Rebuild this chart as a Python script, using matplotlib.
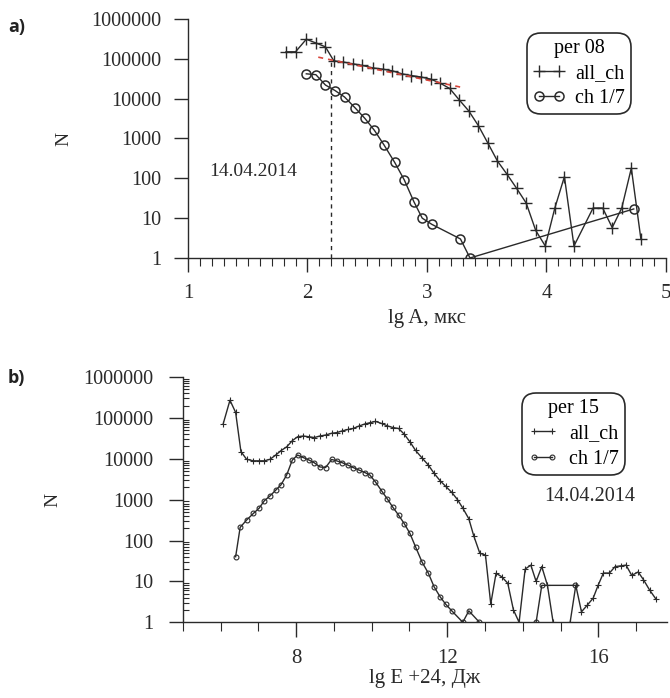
import matplotlib
matplotlib.use("Agg")
import matplotlib.pyplot as plt
import numpy as np
from matplotlib.ticker import MultipleLocator, LogLocator, NullFormatter

plt.rcParams["font.family"] = ["Liberation Serif", "DejaVu Serif"]

nan = np.nan

# panel a: amplitude distribution, per 08
a_all_x = [1.82, 1.90, 1.99, 2.07, 2.15, 2.22, 2.30, 2.38, 2.46, 2.55, 2.63, 2.71, 2.79,
           2.87, 2.95, 3.03, 3.11, 3.19, 3.27, 3.35, 3.43, 3.51, 3.59, 3.67, 3.75, 3.83,
           3.91, 3.99, 4.07, 4.15, 4.23, 4.39, 4.47, 4.55, 4.63, 4.71, 4.79]
a_all_n = [1.5e5, 1.5e5, 3.1e5, 2.5e5, 2.0e5, 8.9e4, 8.3e4, 7.5e4, 6.8e4, 5.9e4, 5.5e4,
           5.0e4, 4.2e4, 3.8e4, 3.5e4, 3.1e4, 2.45e4, 1.8e4, 9.3e3, 4.9e3, 2.1e3, 760,
           270, 126, 56, 24, 4.9, 2, 18, 110, 2, 18, 18, 5.8, 18, 180, 3]
a_ch_x = [1.99, 2.07, 2.15, 2.23, 2.31, 2.40, 2.48, 2.56, 2.64, 2.73, 2.81, 2.89, 2.96,
          3.04, 3.28, 3.36, 4.73]
a_ch_n = [4.2e4, 4.0e4, 2.2e4, 1.6e4, 1.1e4, 5.8e3, 3.2e3, 1.6e3, 690, 250, 91, 26, 10,
          7, 3, 1, 17]
a_fit_x = [2.09, 3.28]
a_fit_n = [1.1e5, 1.95e4]
a_cut_x = 2.20
a_cut_top = 8.5e4

# panel b: energy distribution, per 15
b_all_x = [6.07, 6.25, 6.40, 6.54, 6.69, 6.87, 7.02, 7.16, 7.31, 7.46, 7.60, 7.75, 7.90,
           8.04, 8.19, 8.34, 8.48, 8.63, 8.78, 8.94, 9.07, 9.22, 9.37, 9.51, 9.66, 9.82,
           9.95, 10.10, 10.26, 10.41, 10.56, 10.71, 10.86, 11.01, 11.16, 11.33, 11.50,
           11.65, 11.81, 11.96, 12.12, 12.27, 12.41, 12.57, 12.70, 12.86, 13.01, 13.15,
           13.29, 13.44, 13.60, 13.75, 13.90, 14.06, 14.21, 14.35, 14.50, 14.65, 14.80,
           14.95, 15.10, 15.25, 15.40, 15.55, 15.70, 15.86, 15.99, 16.13, 16.29, 16.44,
           16.59, 16.73, 16.88, 17.05, 17.19, 17.35, 17.52]
b_all_n = [7.1e4, 2.7e5, 1.36e5, 1.5e4, 9.7e3, 8.9e3, 8.9e3, 8.9e3, 9.7e3, 1.23e4, 1.58e4,
           1.95e4, 2.77e4, 3.45e4, 3.6e4, 3.45e4, 3.3e4, 3.6e4, 3.8e4, 4.2e4, 4.35e4,
           4.8e4, 5.2e4, 5.5e4, 6.3e4, 7.1e4, 7.6e4, 8.2e4, 7.3e4, 6.4e4, 5.8e4, 5.5e4,
           4.0e4, 2.6e4, 1.6e4, 1.05e4, 7e3, 4.4e3, 2.9e3, 2.1e3, 1.5e3, 1.0e3, 620, 340,
           130, 49, 44, 2.8, 15.8, 13, 9, 2, 1, 20, 25, 10, 23, 8, 1, nan, nan, 1, 8, 1.8,
           2.6, 3.9, 8, 16, 16, 23, 24, 25, 14, 17, 11, 6.2, 3.7]
b_ch_x = [6.40, 6.52, 6.69, 6.87, 7.02, 7.16, 7.31, 7.46, 7.60, 7.75, 7.90, 8.04, 8.19,
          8.34, 8.48, 8.63, 8.78, 8.94, 9.07, 9.22, 9.37, 9.51, 9.66, 9.82, 9.95, 10.10,
          10.26, 10.41, 10.56, 10.71, 10.86, 11.01, 11.16, 11.33, 11.50, 11.65, 11.81,
          11.96, 12.12, 12.41, 12.57, 12.85, 13.60, 14.35, 14.50, 15.38]
b_ch_n = [40, 210, 316, 460, 615, 940, 1230, 1700, 2300, 4000, 9300, 1.23e4, 1.07e4,
          9.3e3, 8e3, 6.3e3, 6.1e3, 9.6e3, 8.9e3, 8e3, 7e3, 6.1e3, 5.3e3, 4.6e3, 4e3,
          2.7e3, 1.65e3, 1.05e3, 650, 420, 260, 150, 70, 30, 15.8, 7.4, 4.2, 2.75, 1.9,
          1, 1.9, 1, nan, 1, 8, 8]

y_ticks = [1, 10, 100, 1000, 10000, 100000, 1000000]
y_tick_labels = ["1", "10", "100", "1000", "10000", "100000", "1000000"]
a_x_ticks = [1, 2, 3, 4, 5]
b_x_ticks = [8, 12, 16]

ink = "#2a2a2a"

fig = plt.figure(figsize=(6.7, 6.98), dpi=100)
ax_a = fig.add_axes([0.2806, 0.6304, 0.7134, 0.3424])
ax_b = fig.add_axes([0.2727, 0.1085, 0.7221, 0.3514])


def style_axis(ax, xticks, xminor, ypad):
    ax.set_yscale("log")
    ax.set_ylim(1, 1e6)
    for s in ["top", "right"]:
        ax.spines[s].set_visible(False)
    for s in ["left", "bottom"]:
        ax.spines[s].set_color(ink)
        ax.spines[s].set_linewidth(1.0)
    ax.set_yticks(y_ticks, y_tick_labels)
    ax.yaxis.set_minor_locator(LogLocator(base=10, subs=np.arange(2, 10)))
    ax.yaxis.set_minor_formatter(NullFormatter())
    ax.set_xticks(xticks, [str(t) for t in xticks])
    ax.xaxis.set_minor_locator(MultipleLocator(xminor))
    ax.tick_params(axis="y", which="major", direction="out", length=10, width=1,
                   pad=ypad, labelsize=14.5, colors=ink)
    ax.tick_params(axis="y", which="minor", direction="in", length=4, width=0.8,
                   colors=ink)
    ax.tick_params(axis="x", which="major", direction="out", length=10, width=1,
                   pad=9, labelsize=15, colors=ink)
    ax.tick_params(axis="x", which="minor", direction="out", length=6, width=0.8,
                   colors=ink)


# ---- panel a
style_axis(ax_a, a_x_ticks, 0.1, 9)
ax_a.set_xlim(1, 5)
l1, = ax_a.plot(a_all_x, a_all_n, color=ink, lw=1.0, marker="+", ms=8.5, mew=1.0,
                label="all_ch")
l2, = ax_a.plot(a_ch_x, a_ch_n, color=ink, lw=1.0, marker="o", ms=6.5, mfc="none",
                mew=1.1, label="ch 1/7")
ax_a.plot(a_fit_x, a_fit_n, color="#d9453b", lw=1.2, ls=(0, (3, 3)), zorder=4)
ax_a.vlines(a_cut_x, 1, a_cut_top, color=ink, lw=1.0, linestyles=(0, (3, 3)))
ax_a.set_xlabel("lg A, мкс", fontsize=15, labelpad=4, color=ink)
ax_a.set_ylabel("N", fontsize=14, labelpad=14, color=ink)
ax_a.text(0.1366, 0.36, "14.04.2014", transform=ax_a.transAxes, ha="center",
          va="center", fontsize=14, color=ink)
leg_a = ax_a.legend(handles=[l1, l2], title="per 08", loc="upper left",
                    bbox_to_anchor=(0.709, 0.941), borderaxespad=0, numpoints=2,
                    fontsize=14.5, title_fontsize=14.5, handlelength=1.6,
                    handletextpad=0.5, labelspacing=0.3, borderpad=0.3,
                    fancybox=True, framealpha=1, edgecolor=ink)
leg_a.get_frame().set_boxstyle("round", pad=0, rounding_size=0.7)
leg_a.get_frame().set_linewidth(1.2)

# ---- panel b
style_axis(ax_b, b_x_ticks, 1, 11)
ax_b.set_xlim(5, 17.8)
ax_b.tick_params(axis="x", which="major", length=11, pad=8)
ax_b.tick_params(axis="x", which="minor", length=6.5)
m1, = ax_b.plot(b_all_x, b_all_n, color=ink, lw=1.0, marker="+", ms=4.5, mew=0.8,
                label="all_ch")
m2, = ax_b.plot(b_ch_x, b_ch_n, color=ink, lw=1.0, marker="o", ms=3.5, mfc="none",
                mew=0.8, label="ch 1/7")
ax_b.set_xlabel("lg E +24, Дж", fontsize=15, labelpad=1, color=ink)
ax_b.set_ylabel("N", fontsize=14, labelpad=16, color=ink)
ax_b.text(0.841, 0.512, "14.04.2014", transform=ax_b.transAxes, ha="center",
          va="center", fontsize=14.5, color=ink)
leg_b = ax_b.legend(handles=[m1, m2], title="per 15", loc="upper left",
                    bbox_to_anchor=(0.7007, 0.9335), borderaxespad=0, numpoints=2,
                    fontsize=14.5, title_fontsize=14.5, handlelength=1.5,
                    handletextpad=0.55, labelspacing=0.3, borderpad=0.3,
                    fancybox=True, framealpha=1, edgecolor=ink)
leg_b.get_frame().set_boxstyle("round", pad=0, rounding_size=0.7)
leg_b.get_frame().set_linewidth(1.2)

fig.text(0.012, 0.961, "a)", fontfamily="Open Sans", fontweight="bold", fontsize=13,
         va="center", color="#222222")
fig.text(0.012, 0.4585, "b)", fontfamily="Open Sans", fontweight="bold", fontsize=13,
         va="center", color="#222222")

fig.savefig("out.png", dpi=100)
